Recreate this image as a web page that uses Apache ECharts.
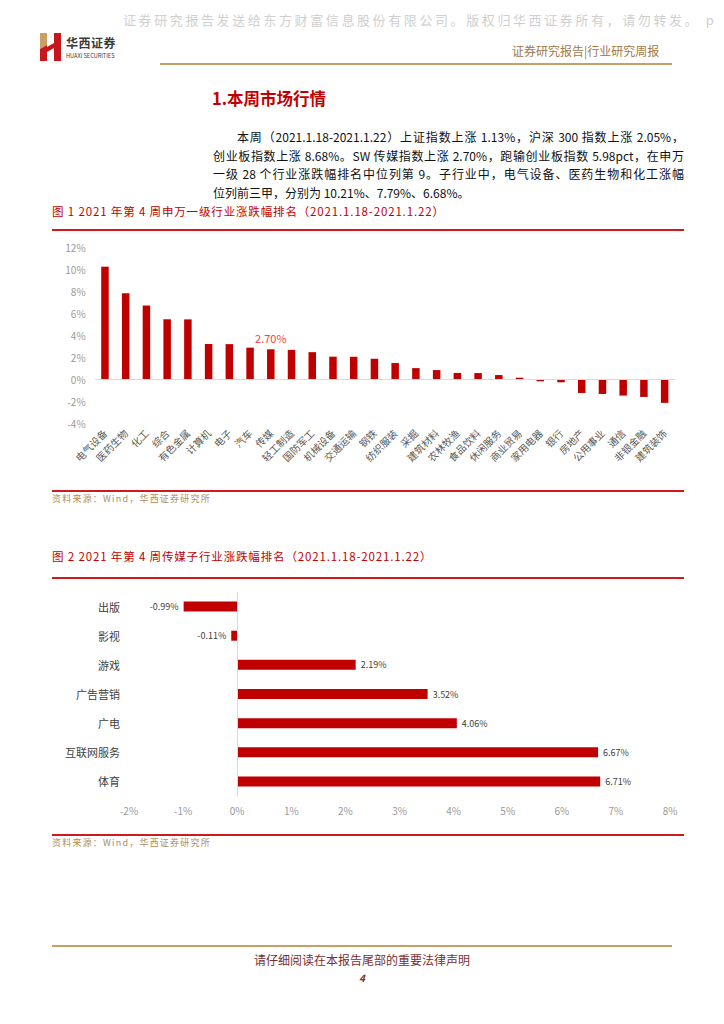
<!DOCTYPE html>
<html>
<head>
<meta charset="utf-8">
<script src="https://cdn.jsdelivr.net/npm/echarts@6/dist/echarts.min.js"></script>
<style>
  html, body { margin:0; padding:0; background:#fff; }
  body { width:724px; height:1024px; position:relative; overflow:hidden; font-family:"Noto Sans CJK SC","Noto Sans",sans-serif; }
  #chart { position:absolute; left:0; top:0; width:724px; height:1024px; }
  .t { position:absolute; white-space:nowrap; }
  .line { position:absolute; }
  .bl { height:18.7px; line-height:18.7px; font-size:12px; color:#111; text-align:justify; text-align-last:justify; white-space:nowrap; }
</style>
</head>
<body>
<div id="chart"></div>

<!-- header -->
<div class="t" style="left:123px;top:10px;font-size:13px;letter-spacing:2.6px;color:#cfcfcf;">证券研究报告发送给东方财富信息股份有限公司。版权归华西证券所有，请勿转发。 <span style="letter-spacing:0">p</span></div>
<svg style="position:absolute;left:40px;top:33px" width="22" height="28" viewBox="0 0 22 28">
  <polygon points="0,0 7,0 7,12 0,16" fill="#C9A063"/>
  <polygon points="0,16 7,12 7,28 0,28" fill="#C8161D"/>
  <polygon points="7,14 14,10 14,15 7,19" fill="#C8161D"/>
  <polygon points="14,0 21,0 21,28 14,28" fill="#C8161D"/>
</svg>
<div class="t" style="left:66px;top:34px;font-size:12px;font-weight:bold;color:#3a3a3a;letter-spacing:0.5px;">华西证券</div>
<div class="t" style="left:66px;top:52px;font-size:5.6px;color:#3a3a3a;">HUAXI SECURITIES</div>
<div class="t" style="left:512px;top:42px;font-size:12px;color:#A0784A;">证券研究报告|行业研究周报</div>
<div class="line" style="left:160px;top:63px;width:512px;height:2px;background:#C9A063;"></div>

<!-- section title -->
<div class="t" style="left:212px;top:86px;font-size:16.5px;font-weight:bold;color:#C00000;">1.本周市场行情</div>

<!-- body text -->
<div style="position:absolute;left:213px;top:128px;width:471px;">
  <div class="bl" style="padding-left:24px;">本周（2021.1.18-2021.1.22）上证指数上涨 1.13%，沪深 300 指数上涨 2.05%，</div>
  <div class="bl">创业板指数上涨 8.68%。SW 传媒指数上涨 2.70%，跑输创业板指数 5.98pct，在申万</div>
  <div class="bl">一级 28 个行业涨跌幅排名中位列第 9。子行业中，电气设备、医药生物和化工涨幅</div>
  <div class="bl" style="text-align:left;text-align-last:left;">位列前三甲，分别为 10.21%、7.79%、6.68%。</div>
</div>

<!-- figure 1 title -->
<div class="t" style="left:52px;top:203px;font-size:11.5px;letter-spacing:0.85px;color:#C00000;">图 1 2021 年第 4 周申万一级行业涨跌幅排名（2021.1.18-2021.1.22）</div>
<div class="line" style="left:52px;top:229px;width:632px;height:1.5px;background:#D0191F;"></div>
<div class="line" style="left:52px;top:490px;width:632px;height:1.5px;background:#D0191F;"></div>
<div class="t" style="left:52px;top:492px;font-size:9px;color:#B08D5A;letter-spacing:1.2px;">资料来源：Wind，华西证券研究所</div>

<!-- figure 2 title -->
<div class="t" style="left:52px;top:548px;font-size:11.5px;letter-spacing:0.85px;color:#C00000;">图 2 2021 年第 4 周传媒子行业涨跌幅排名（2021.1.18-2021.1.22）</div>
<div class="line" style="left:52px;top:577px;width:632px;height:1.5px;background:#D0191F;"></div>
<div class="line" style="left:52px;top:834px;width:632px;height:1.5px;background:#D0191F;"></div>
<div class="t" style="left:52px;top:836px;font-size:9px;color:#B08D5A;letter-spacing:1.2px;">资料来源：Wind，华西证券研究所</div>

<!-- footer -->
<div class="line" style="left:52px;top:945px;width:620px;height:2px;background:#C9A063;"></div>
<div class="t" style="left:0;width:724px;text-align:center;top:951px;font-size:12px;color:#7a2e2e;">请仔细阅读在本报告尾部的重要法律声明</div>
<div class="t" style="left:0;width:724px;text-align:center;top:970px;font-size:10px;font-weight:bold;font-style:italic;color:#7a2e2e;">4</div>

<script>
// ---- Figure 1 data ----
const industryCategories = ['电气设备','医药生物','化工','综合','有色金属','计算机','电子','汽车','传媒','轻工制造','国防军工','机械设备','交通运输','钢铁','纺织服装','采掘','建筑材料','农林牧渔','食品饮料','休闲服务','商业贸易','家用电器','银行','房地产','公用事业','通信','非银金融','建筑装饰'];
const industryValues = [10.21, 7.79, 6.68, 5.43, 5.42, 3.18, 3.17, 2.85, 2.70, 2.65, 2.44, 2.03, 2.02, 1.84, 1.45, 0.99, 0.81, 0.55, 0.54, 0.36, 0.12, -0.21, -0.30, -1.27, -1.36, -1.51, -1.63, -2.17];
const highlightCategory = '传媒';
const yTicks1 = { min: -4, max: 12, interval: 2 };

// ---- Figure 2 data ----
const mediaCategories = ['出版','影视','游戏','广告营销','广电','互联网服务','体育'];
const mediaValues = [-0.99, -0.11, 2.19, 3.52, 4.06, 6.67, 6.71];
const xTicks2 = { min: -2, max: 8, interval: 1 };

const BAR = '#C00000';

const data1 = industryValues.map((v, i) => {
  if (industryCategories[i] === highlightCategory) {
    return { value: v, label: { show: true, position: 'top', distance: 6, color: '#FF3B3B', fontSize: 11,
      formatter: p => p.value.toFixed(2) + '%' } };
  }
  return v;
});

const data2 = mediaValues.map(v => ({
  value: v,
  label: { show: true, position: v < 0 ? 'left' : 'right', distance: 5, color: '#404040', fontSize: 9,
    formatter: p => p.value.toFixed(2) + '%' }
}));

const chart = echarts.init(document.getElementById('chart'), null, { renderer: 'svg' });
chart.setOption({
  animation: false,
  textStyle: { fontFamily: '"Noto Sans CJK SC","Noto Sans",sans-serif' },
  grid: [
    { left: 94.6, top: 247, width: 580.4, height: 176 },
    { left: 129, top: 592, width: 541, height: 204 }
  ],
  xAxis: [
    { gridIndex: 0, type: 'category', data: industryCategories,
      axisLine: { show: false, onZero: false }, axisTick: { show: false },
      axisLabel: { interval: 0, rotate: 45, fontSize: 10, color: '#595959', margin: 8 } },
    { gridIndex: 1, type: 'value', min: xTicks2.min, max: xTicks2.max, interval: xTicks2.interval,
      splitLine: { show: false }, axisLine: { show: false, onZero: false }, axisTick: { show: false },
      axisLabel: { formatter: '{value}%', fontSize: 10, color: '#9a9a9a', margin: 9 } }
  ],
  yAxis: [
    { gridIndex: 0, type: 'value', min: yTicks1.min, max: yTicks1.max, interval: yTicks1.interval,
      splitLine: { show: false }, axisLine: { show: false }, axisTick: { show: false },
      axisLabel: { formatter: '{value}%', fontSize: 10, color: '#9a9a9a', margin: 9 } },
    { gridIndex: 1, type: 'category', data: mediaCategories, inverse: true,
      axisLine: { show: false, onZero: false }, axisTick: { show: false },
      axisLabel: { fontSize: 11, color: '#404040', margin: 9 } }
  ],
  series: [
    { type: 'bar', xAxisIndex: 0, yAxisIndex: 0, data: data1, barWidth: 7.5,
      itemStyle: { color: BAR },
      markLine: { silent: true, symbol: 'none', label: { show: false },
        lineStyle: { color: '#d9d9d9', type: 'solid', width: 1 }, data: [{ yAxis: 0 }] } },
    { type: 'bar', xAxisIndex: 1, yAxisIndex: 1, data: data2, barWidth: 10,
      itemStyle: { color: BAR },
      markLine: { silent: true, symbol: 'none', label: { show: false },
        lineStyle: { color: '#d9d9d9', type: 'solid', width: 1 }, data: [{ xAxis: 0 }] } }
  ]
});
</script>
</body>
</html>
